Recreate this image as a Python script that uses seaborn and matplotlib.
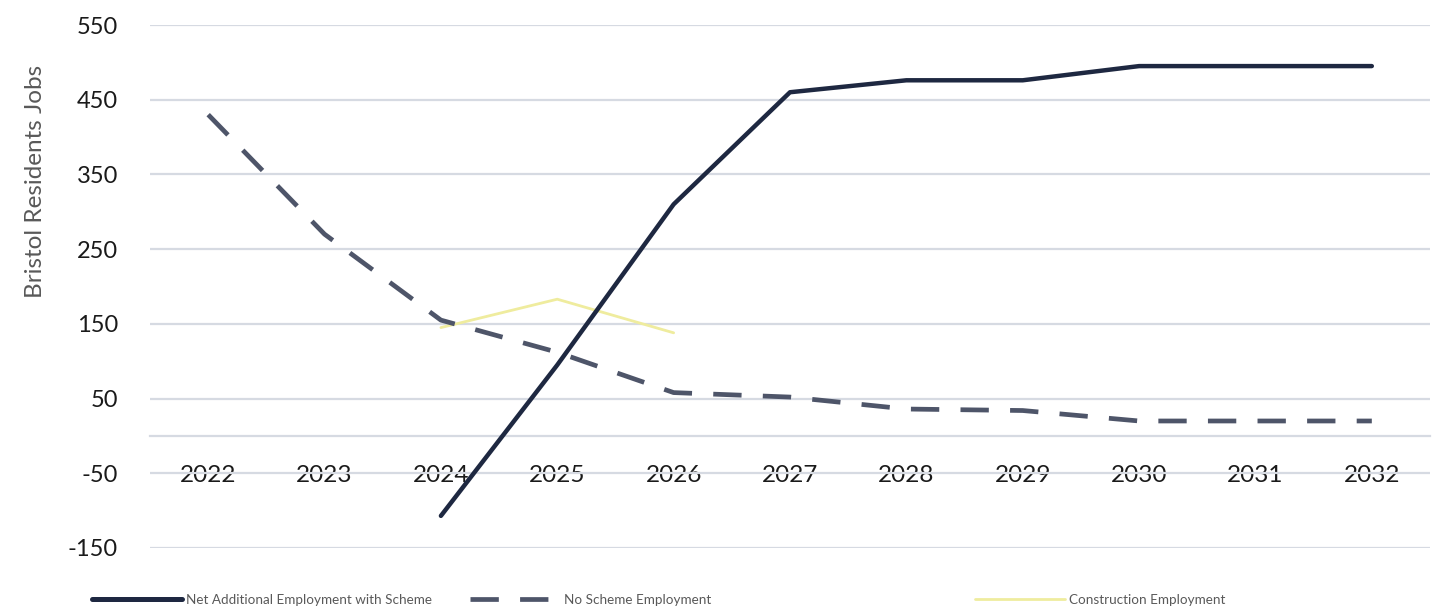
import numpy as np
import pandas as pd
import matplotlib
matplotlib.use("Agg")
import matplotlib.pyplot as plt
import seaborn as sns
from matplotlib.lines import Line2D

# ---- data -------------------------------------------------------------
years = ["2022", "2023", "2024", "2025", "2026", "2027",
         "2028", "2029", "2030", "2031", "2032"]
net_with_scheme = [np.nan, np.nan, -107, 95, 310, 460, 476, 476, 495, 495, 495]
no_scheme = [430, 270, 155, 112, 58, 52, 36, 34, 20, 20, 20]
construction = [np.nan, np.nan, 145, 183, 138, np.nan, np.nan, np.nan,
                np.nan, np.nan, np.nan]
y_ticks = [-150, -50, 50, 150, 250, 350, 450, 550]

series_names = ["Net Additional Employment with Scheme",
                "No Scheme Employment",
                "Construction Employment"]
y_label = "Bristol Residents Jobs"

# ---- style ------------------------------------------------------------
sns.set_theme(style="white")
plt.rcParams["font.family"] = ["Lato", "DejaVu Sans"]

NAVY = "#1E2841"
SLATE = "#4E5569"
PALE_YELLOW = "#EFEC9E"
GRID = "#D6DAE2"
TEXT = "#1A1A1A"
MUTED = "#595959"

fig = plt.figure(figsize=(14.4, 6.11), dpi=100)
fig.patch.set_facecolor("white")
ax = fig.add_axes([150 / 1440, 1 - 548 / 611, 1280 / 1440, 523 / 611])

pos = np.arange(len(years))
df = pd.DataFrame({"pos": pos,
                   "net": net_with_scheme,
                   "none": no_scheme,
                   "build": construction})

sns.lineplot(data=df, x="pos", y="build", ax=ax, color=PALE_YELLOW,
             lw=2.0, zorder=2)
sns.lineplot(data=df, x="pos", y="none", ax=ax, color=SLATE,
             lw=3.4, zorder=3)
ax.lines[-1].set_dashes([6, 4.5])
sns.lineplot(data=df, x="pos", y="net", ax=ax, color=NAVY,
             lw=3.2, zorder=4)

# ---- axes -------------------------------------------------------------
# category axis sits on the zero line
for side in ("top", "right", "left"):
    ax.spines[side].set_visible(False)
ax.spines["bottom"].set_position(("data", 0))
ax.spines["bottom"].set_color(GRID)
ax.spines["bottom"].set_linewidth(1.6)

ax.set_xlim(-0.5, len(years) - 0.5)
ax.set_ylim(-150, 550)
ax.set_yticks(y_ticks)
ax.set_yticklabels([str(v) for v in y_ticks])
ax.set_xticks(pos)
ax.set_xticklabels(years)
ax.grid(axis="y", color=GRID, lw=1.6)
ax.grid(axis="x", visible=False)
ax.set_axisbelow(True)

ax.tick_params(axis="y", length=0, pad=23, labelsize=17, labelcolor=TEXT)
ax.tick_params(axis="x", length=0, pad=21, labelsize=17.5, labelcolor=TEXT)

ax.set_xlabel("")
ax.set_ylabel(y_label, fontsize=17.5, color=MUTED)
ax.yaxis.set_label_coords(-0.0813, 0.70)

# ---- legend (three entries spread along the bottom) -------------------
handles = [
    Line2D([], [], color=NAVY, lw=3.6),
    Line2D([], [], color=SLATE, lw=3.4, dashes=[6, 4.5]),
    Line2D([], [], color=PALE_YELLOW, lw=2.0),
]
anchors = [92 / 1440, 470 / 1440, 975 / 1440]
for h, name, xa in zip(handles, series_names, anchors):
    fig.legend(handles=[h], labels=[name], loc="center left",
               bbox_to_anchor=(xa, 1 - 600 / 611), frameon=False,
               fontsize=9.7, labelcolor=MUTED, handlelength=6.7,
               handletextpad=0.3, borderpad=0, borderaxespad=0)

fig.savefig("out.png", dpi=100, facecolor="white")
